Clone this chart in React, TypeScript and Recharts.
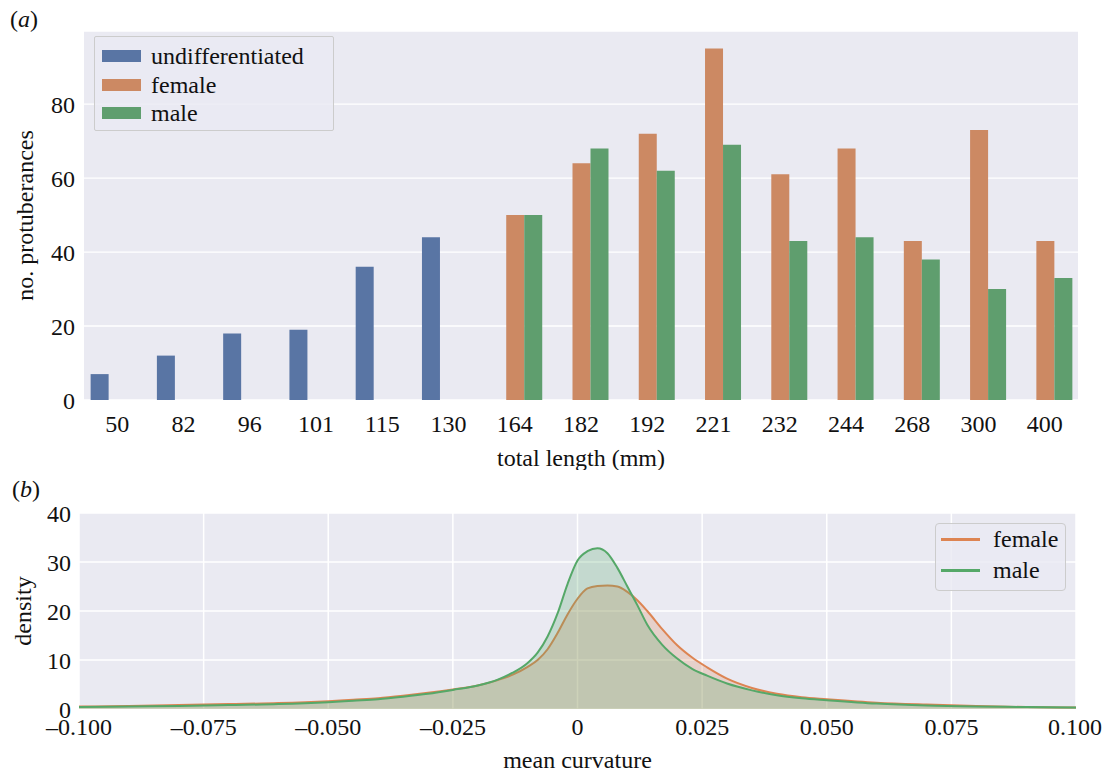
import React from 'react'
import {
  BarChart,
  Bar,
  AreaChart,
  Area,
  XAxis,
  YAxis,
  CartesianGrid,
  Legend,
  Label,
} from 'recharts'

// panel (a): protuberance counts per specimen length
const lengths = ['50', '82', '96', '101', '115', '130', '164', '182', '192', '221', '232', '244', '268', '300', '400']
const undifferentiated = [7, 12, 18, 19, 36, 44, null, null, null, null, null, null, null, null, null]
const female = [null, null, null, null, null, null, 50, 64, 72, 95, 61, 68, 43, 73, 43]
const male = [null, null, null, null, null, null, 50, 68, 62, 69, 43, 44, 38, 30, 33]
const countTicks = [0, 20, 40, 60, 80]
const barKeys = ['undifferentiated', 'female', 'male']

// panel (b): mean curvature density
const curvature = [
  -0.1, -0.09, -0.08, -0.07, -0.06, -0.05, -0.045, -0.04, -0.035, -0.03, -0.025, -0.02, -0.016, -0.013,
  -0.01, -0.008, -0.006, -0.004, -0.002, 0, 0.002, 0.004, 0.006, 0.008, 0.01, 0.012, 0.014, 0.017, 0.02,
  0.023, 0.026, 0.03, 0.035, 0.04, 0.045, 0.05, 0.06, 0.07, 0.08, 0.09, 0.1,
]
const femaleDensity = [
  0.5, 0.6, 0.8, 1.0, 1.2, 1.6, 1.9, 2.2, 2.7, 3.3, 4.0, 4.8, 5.9, 7.0,
  8.6, 10.0, 12.2, 15.5, 19.3, 22.5, 24.6, 25.1, 25.2, 25.0, 23.9, 22.2, 20.0, 16.3, 13.0,
  10.5, 8.5, 6.2, 4.3, 3.1, 2.4, 2.0, 1.3, 0.9, 0.6, 0.4, 0.3,
]
const maleDensity = [
  0.4, 0.5, 0.6, 0.8, 1.0, 1.4, 1.7, 2.0, 2.5, 3.1, 3.9, 4.8, 6.0, 7.4,
  9.4, 11.5, 14.8, 19.5, 25.5, 30.3, 32.2, 32.8, 31.8, 28.8, 25.0, 21.2, 17.2, 13.1, 10.3,
  8.2, 6.8, 5.2, 3.8, 2.8, 2.2, 1.8, 1.1, 0.7, 0.5, 0.4, 0.3,
]
const curvatureTicks = [-0.1, -0.075, -0.05, -0.025, 0, 0.025, 0.05, 0.075, 0.1]
const densityTicks = [0, 10, 20, 30, 40]
const densityKeys = ['female', 'male']

const barData = lengths.map((length, i) => ({
  length,
  undifferentiated: undifferentiated[i],
  female: female[i],
  male: male[i],
}))

const densityData = curvature.map((c, i) => ({
  curvature: c,
  female: femaleDensity[i],
  male: maleDensity[i],
}))

const SERIF = '"Liberation Serif", "Times New Roman", Tinos, "DejaVu Serif", "Noto Serif", "Liberation Sans", Arial, sans-serif'
const BG = '#EAEAF2'
const tickStyle = { fontFamily: SERIF, fontSize: 24, fill: '#111' }
const textStyle: React.CSSProperties = { fontFamily: SERIF, fontSize: 24, fill: '#111' }

const fmtCurvature = (v: number) =>
  v === 0 ? '0' : (v < 0 ? '\u2013' : '') + Math.abs(v).toFixed(3)

const inOrder = (payload: any[], order: string[]) =>
  [...(payload || [])].sort((a, b) => order.indexOf(a.dataKey) - order.indexOf(b.dataKey))

// axis titles
const bottomTitle = (text: string, below: number) => (props: any) => {
  const vb = props.viewBox || {}
  return (
    <text x={vb.x + vb.width / 2} y={vb.y + vb.height + below} textAnchor="middle" style={textStyle}>
      {text}
    </text>
  )
}

const sideTitle = (text: string, baseX: number) => (props: any) => {
  const vb = props.viewBox || {}
  const cy = vb.y + vb.height / 2
  return (
    <text x={baseX} y={cy} transform={`rotate(-90 ${baseX} ${cy})`} textAnchor="middle" style={textStyle}>
      {text}
    </text>
  )
}

function BarKey({ payload }: any) {
  return (
    <div style={{ padding: '5px 0 0 7px', fontFamily: SERIF, fontSize: 24, color: '#111' }}>
      {inOrder(payload, barKeys).map((p: any) => (
        <div key={p.value} style={{ display: 'flex', alignItems: 'center', height: 28.5, lineHeight: '28.5px' }}>
          <span style={{ width: 39, height: 12, background: p.color, marginRight: 10, flex: 'none' }} />
          <span>{p.value}</span>
        </div>
      ))}
    </div>
  )
}

function LineKey({ payload }: any) {
  return (
    <div style={{ padding: '0 0 0 5px', fontFamily: SERIF, fontSize: 24, color: '#111' }}>
      {inOrder(payload, densityKeys).map((p: any) => (
        <div key={p.value} style={{ display: 'flex', alignItems: 'center', height: 31, lineHeight: '31px' }}>
          <span style={{ width: 39, height: 2.5, background: p.color, marginRight: 13, flex: 'none' }} />
          <span>{p.value}</span>
        </div>
      ))}
    </div>
  )
}

const panelLetter = (letter: string, left: number, top: number) => (
  <div style={{ position: 'absolute', left, top, fontFamily: SERIF, fontSize: 24, lineHeight: '24px', color: '#111' }}>
    (<i>{letter}</i>)
  </div>
)

export default function App() {
  return (
    <div style={{ position: 'absolute', left: 0, top: 0, width: 1102, height: 772, background: '#fff', overflow: 'hidden' }}>
      {panelLetter('a', 10, 7)}
      {panelLetter('b', 12, 477)}

      <div style={{ position: 'absolute', left: 0, top: 0 }}>
        <BarChart
          width={1102}
          height={470}
          data={barData}
          margin={{ top: 31, right: 24, bottom: 30, left: 24 }}
          barCategoryGap="10%"
          barGap={0}
        >
          <CartesianGrid vertical={false} stroke="#fff" strokeWidth={1.3} fill={BG} />
          <XAxis
            dataKey="length"
            interval={0}
            height={40}
            axisLine={false}
            tickLine={false}
            tickSize={0}
            tickMargin={15}
            tick={tickStyle}
          >
            <Label content={bottomTitle('total length (mm)', 25.5)} />
          </XAxis>
          <YAxis
            width={60}
            domain={[0, 99.75]}
            ticks={countTicks}
            axisLine={false}
            tickLine={false}
            tickSize={0}
            tickMargin={9}
            tick={tickStyle}
          >
            <Label content={sideTitle('no. protuberances', 33)} />
          </YAxis>
          <Legend
            layout="vertical"
            align="center"
            verticalAlign="middle"
            content={<BarKey />}
            wrapperStyle={{
              left: 94,
              top: 36,
              width: 240,
              height: 95,
              boxSizing: 'border-box',
              border: '1.5px solid #CCCCCC',
              borderRadius: 2,
              background: 'rgba(234,234,242,0.8)',
            }}
          />
          <Bar dataKey="undifferentiated" fill="#5975A4" isAnimationActive={false} />
          <Bar dataKey="female" fill="#CC8963" isAnimationActive={false} />
          <Bar dataKey="male" fill="#5F9E6E" isAnimationActive={false} />
        </BarChart>
      </div>

      <div style={{ position: 'absolute', left: 0, top: 470 }}>
        <AreaChart
          width={1102}
          height={302}
          data={densityData}
          margin={{ top: 43, right: 26, bottom: 23, left: 19 }}
        >
          <CartesianGrid stroke="#fff" strokeWidth={1.5} fill={BG} />
          <XAxis
            dataKey="curvature"
            type="number"
            domain={[-0.1, 0.1]}
            ticks={curvatureTicks}
            tickFormatter={fmtCurvature}
            height={40}
            axisLine={false}
            tickLine={false}
            tickSize={0}
            tickMargin={9}
            tick={tickStyle}
          >
            <Label content={bottomTitle('mean curvature', 19)} />
          </XAxis>
          <YAxis
            width={60}
            domain={[0, 40]}
            ticks={densityTicks}
            axisLine={false}
            tickLine={false}
            tickSize={0}
            tickMargin={8}
            tick={tickStyle}
          >
            <Label content={sideTitle('density', 31)} />
          </YAxis>
          <Legend
            layout="vertical"
            align="center"
            verticalAlign="middle"
            content={<LineKey />}
            wrapperStyle={{
              left: 935,
              top: 53,
              width: 131,
              height: 68,
              boxSizing: 'border-box',
              border: '1px solid #CCCCCC',
              borderRadius: 4,
              background: 'rgba(234,234,242,0.8)',
            }}
          />
          <Area
            type="monotone"
            dataKey="female"
            stroke="#DD8452"
            strokeWidth={2}
            fill="#DD8452"
            fillOpacity={0.25}
            isAnimationActive={false}
          />
          <Area
            type="monotone"
            dataKey="male"
            stroke="#55A868"
            strokeWidth={2}
            fill="#55A868"
            fillOpacity={0.25}
            isAnimationActive={false}
          />
        </AreaChart>
      </div>
    </div>
  )
}
